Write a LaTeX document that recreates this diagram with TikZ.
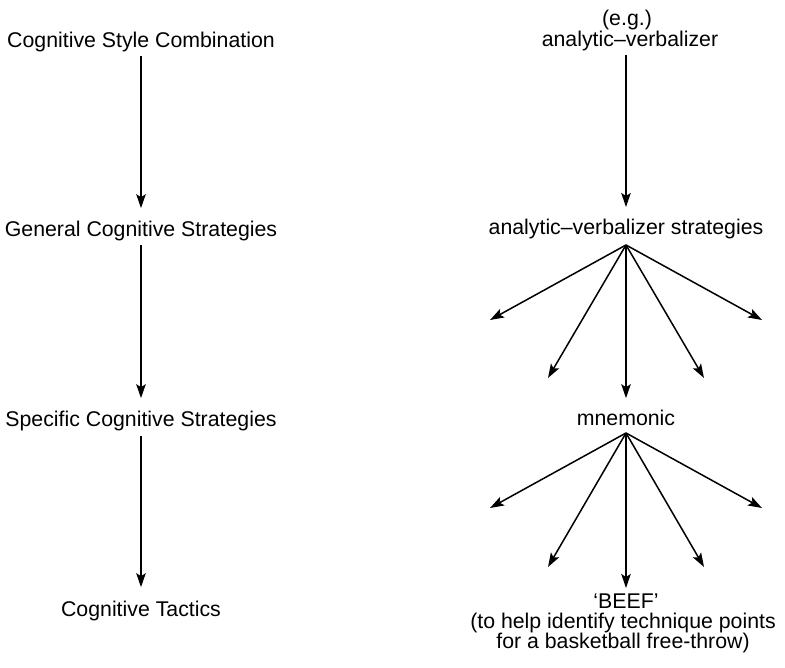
\documentclass[tikz,border=0pt]{standalone}
\usepackage{fontspec}
\setmainfont{Liberation Sans}
\usetikzlibrary{arrows.meta}
\begin{document}
\begin{tikzpicture}[x=1pt,y=-1pt,
  lbl/.style={inner sep=0pt, outer sep=0pt, anchor=base,
    font=\fontsize{21.3}{24}\selectfont, text height=15.3pt, text depth=4.5pt},
  arr/.style={line width=1.5pt, -{Stealth[length=14pt,width=9.5pt,inset=3pt]}},
  down/.style={arr, shorten <=4pt, shorten >=13.5pt}]
\useasboundingbox (0,0) rectangle (785,668);

% levels of the hierarchy
\node[lbl] (csc) at (141,48)  {Cognitive Style Combination};
\node[lbl] (gcs) at (141,237) {General Cognitive Strategies};
\node[lbl] (scs) at (141,427) {Specific Cognitive Strategies};
\node[lbl] (ct)  at (141,616) {Cognitive Tactics};

\draw[down] (csc.south) -- (gcs.north);
\draw[down] (gcs.south) -- (scs.north);
\draw[down] (scs.south) -- (ct.north);

% worked example
\node[lbl] (eg)   at (627,26)  {(e.g.)};
\node[lbl] (av)   at (630,47)  {analytic–verbalizer};
\node[lbl] (avs)  at (626,235) {analytic–verbalizer strategies};
\node[lbl] (mn)   at (626,425) {mnemonic};
\node[lbl] (beef) at (626,608) {‘BEEF’};
\node[lbl] (b2)   at (623,628) {(to help identify technique points};
\node[lbl] (b3)   at (623,648) {for a basketball free-throw)};

\draw[arr, shorten <=3.5pt, shorten >=12.7pt] (av.south -| avs.north) -- (avs.north);

% first fan of strategies
\coordinate (o1) at ([yshift=-5.5pt]avs.south);
\coordinate (p1) at (490,320);
\coordinate (p2) at (548,378);
\coordinate (p3) at (704,378);
\coordinate (p4) at (762,320);
\foreach \e in {p1,p2,p3,p4} \draw[arr] (o1) -- (\e);
\draw[arr, shorten >=11.5pt] (o1) -- (mn.north);

% second fan of tactics
\coordinate (o2) at ([yshift=-3.5pt]mn.south);
\coordinate (q1) at (490,508);
\coordinate (q2) at (548,567);
\coordinate (q3) at (704,567);
\coordinate (q4) at (762,508);
\foreach \e in {q1,q2,q3,q4} \draw[arr] (o2) -- (\e);
\draw[arr, shorten >=4.7pt] (o2) -- (beef.north);
\end{tikzpicture}
\end{document}
